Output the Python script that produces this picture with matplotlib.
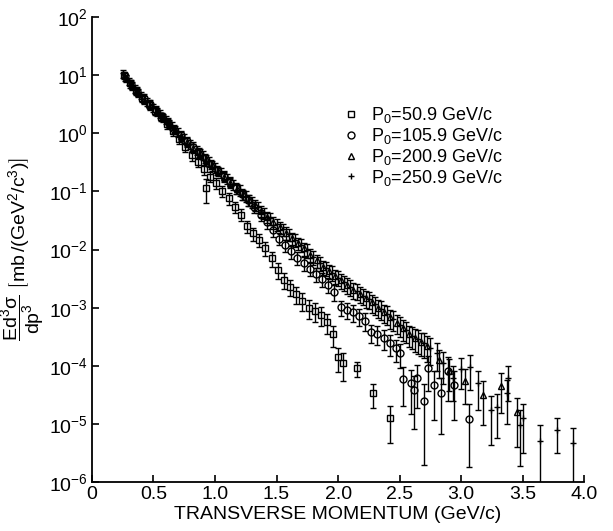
import numpy as np
import matplotlib
matplotlib.use("Agg")
import matplotlib.pyplot as plt
from matplotlib.lines import Line2D

plt.rcParams['font.family'] = ['Liberation Sans', 'DejaVu Sans']
plt.rcParams['mathtext.default'] = 'regular'

# P0 = 50.9 GeV/c  (squares)
pt_50 = [0.26, 0.31, 0.36, 0.41, 0.46, 0.51, 0.56, 0.61, 0.66, 0.71, 0.76, 0.81, 0.86, 0.91,
         0.93,
         0.96, 1.01, 1.06, 1.11, 1.16, 1.21, 1.26, 1.31, 1.36, 1.41, 1.46, 1.51, 1.56, 1.61,
         1.66, 1.71, 1.76, 1.81, 1.86, 1.91, 1.96,
         2.00, 2.04, 2.15, 2.28, 2.42]
sig_50 = [10.0, 7.2, 5.4, 4.1, 3.2, 2.45, 1.9, 1.45, 1.10, 0.79, 0.58, 0.42, 0.32, 0.24,
          0.115,
          0.18, 0.138, 0.102, 0.076, 0.055, 0.040, 0.025, 0.019, 0.0148, 0.0105, 0.0071,
          0.0045, 0.0030, 0.0023, 0.00174, 0.00132, 0.0010, 0.00089, 0.00076, 0.00056, 0.00035,
          1.4e-4, 1.1e-4, 9.1e-5, 3.4e-5, 1.26e-5]
rel_50 = [0.15, 0.15, 0.15, 0.15, 0.16, 0.16, 0.16, 0.17, 0.17, 0.18, 0.18, 0.19, 0.19, 0.20,
          0.45,
          0.20, 0.21, 0.21, 0.22, 0.22, 0.23, 0.24, 0.25, 0.26, 0.27, 0.28, 0.30, 0.31, 0.32,
          0.33, 0.34, 0.35, 0.36, 0.37, 0.38, 0.40,
          0.45, 0.50, 0.30, 0.45, 0.62]

# P0 = 105.9 GeV/c  (circles)
pt_105 = [0.27, 0.32, 0.37, 0.42, 0.47, 0.52, 0.57, 0.62, 0.67, 0.72, 0.77, 0.82, 0.87, 0.92,
          0.97, 1.02, 1.07, 1.12, 1.17, 1.22, 1.27, 1.32, 1.37, 1.42, 1.47, 1.52, 1.57, 1.62,
          1.67, 1.72, 1.77, 1.82, 1.87, 1.92, 1.97, 2.02, 2.07, 2.12, 2.17, 2.22, 2.27, 2.32,
          2.37, 2.42, 2.47, 2.50,
          2.53, 2.59, 2.62, 2.64, 2.70, 2.73, 2.78, 2.84, 2.89, 2.94, 3.06]
sig_105 = [9.5, 7.1, 5.4, 4.1, 3.2, 2.5, 1.95, 1.55, 1.20, 0.93, 0.74, 0.59, 0.47, 0.37,
           0.295, 0.234, 0.186, 0.148, 0.115, 0.091, 0.071, 0.054, 0.040, 0.0295, 0.0214,
           0.0155, 0.0120, 0.0093, 0.0072, 0.0058, 0.0047, 0.0038, 0.0031, 0.0025, 0.00186,
           0.00102, 0.00093, 0.00083, 0.00072, 0.0006, 0.00038, 0.00036, 0.0003, 0.000245,
           0.0002, 0.000166,
           5.9e-5, 5.0e-5, 3.8e-5, 6.2e-5, 2.5e-5, 9.1e-5, 4.7e-5, 3.4e-5, 8.3e-5, 4.7e-5, 1.2e-5]
rel_105 = [0.15, 0.15, 0.15, 0.15, 0.15, 0.16, 0.16, 0.16, 0.17, 0.17,
           0.17, 0.18, 0.18, 0.18, 0.19, 0.19, 0.20, 0.20, 0.20, 0.21,
           0.21, 0.22, 0.22, 0.23, 0.23, 0.24, 0.24, 0.25, 0.25, 0.26,
           0.26, 0.27, 0.28, 0.29, 0.30, 0.30, 0.31, 0.32, 0.33, 0.34,
           0.35, 0.36, 0.38, 0.40, 0.42, 0.45,
           0.65, 0.70, 0.78, 0.70, 0.92, 0.60, 0.75, 0.80, 0.70, 0.75, 0.85]

# P0 = 200.9 GeV/c  (triangles)
pt_200 = [0.275, 0.325, 0.375, 0.425, 0.475, 0.525, 0.575, 0.625, 0.675, 0.725,
          0.775, 0.825, 0.875, 0.925, 0.975, 1.025, 1.075, 1.125, 1.175, 1.225,
          1.275, 1.325, 1.375, 1.425, 1.475, 1.525, 1.575, 1.625, 1.675, 1.725,
          1.775, 1.825, 1.875, 1.925, 1.975, 2.025, 2.075, 2.125, 2.175, 2.225,
          2.275, 2.325, 2.375, 2.425, 2.475, 2.525, 2.575, 2.625, 2.675, 2.725,
          2.82, 2.90, 3.03, 3.18, 3.32, 3.45]
sig_200 = [8.9, 6.6, 5.0, 3.8, 3.0, 2.34, 1.86, 1.45, 1.15, 0.89,
           0.71, 0.56, 0.45, 0.355, 0.28, 0.224, 0.178, 0.141, 0.112, 0.089,
           0.071, 0.058, 0.046, 0.037, 0.0295, 0.024, 0.0195, 0.0158, 0.0129, 0.0105,
           0.0081, 0.0065, 0.0051, 0.0043, 0.0035, 0.0030, 0.00245, 0.00204, 0.00174, 0.00148,
           0.00123, 0.0010, 0.00083, 0.00068, 0.00055, 0.00044, 0.00035, 0.0003, 0.00026, 0.00022,
           1.26e-4, 8.3e-5, 5.6e-5, 3.2e-5, 4.5e-5, 1.6e-5]
rel_200 = [0.15, 0.15, 0.15, 0.15, 0.15, 0.16, 0.16, 0.16, 0.17, 0.17,
           0.17, 0.18, 0.18, 0.18, 0.19, 0.19, 0.20, 0.20, 0.20, 0.21,
           0.21, 0.22, 0.22, 0.22, 0.23, 0.23, 0.24, 0.24, 0.25, 0.25,
           0.26, 0.26, 0.27, 0.28, 0.28, 0.29, 0.30, 0.30, 0.31, 0.32,
           0.33, 0.34, 0.35, 0.36, 0.37, 0.38, 0.40, 0.42, 0.44, 0.46,
           0.50, 0.55, 0.60, 0.70, 0.65, 0.75]

# P0 = 250.9 GeV/c  (crosses)
pt_250 = [0.25, 0.30, 0.35, 0.40, 0.45, 0.50, 0.55, 0.60, 0.65, 0.70,
          0.75, 0.80, 0.85, 0.90, 0.95, 1.00, 1.05, 1.10, 1.15, 1.20,
          1.25, 1.30, 1.35, 1.40, 1.45, 1.50, 1.55, 1.60, 1.65, 1.70,
          1.75, 1.80, 1.85, 1.90, 1.95, 2.00, 2.05, 2.10, 2.15, 2.20,
          2.25, 2.30, 2.35, 2.40, 2.45, 2.50, 2.55, 2.60, 2.65, 2.70, 2.75,
          2.80, 2.85, 2.93, 3.00, 3.07, 3.14, 3.24, 3.29, 3.37, 3.38, 3.48, 3.50, 3.64, 3.78, 3.91]
sig_250 = [10.7, 7.9, 5.9, 4.5, 3.5, 2.75, 2.19, 1.70, 1.35, 1.05,
           0.83, 0.66, 0.52, 0.42, 0.33, 0.26, 0.21, 0.166, 0.132, 0.105,
           0.083, 0.066, 0.054, 0.043, 0.035, 0.0275, 0.0224, 0.0182, 0.0148, 0.0120,
           0.0098, 0.0074, 0.0059, 0.0048, 0.0040, 0.0033, 0.00275, 0.0023, 0.00195, 0.00162,
           0.00141, 0.00115, 0.00095, 0.00078, 0.00063, 0.0005, 0.00041, 0.00033, 0.00029,
           0.00025, 0.0002,
           1.66e-4, 1.1e-4, 6.3e-5, 8.9e-5, 9.5e-5, 5.0e-5, 1.74e-5, 1.95e-5, 3.4e-5, 6.2e-5,
           9.5e-6, 1.26e-5, 5.2e-6, 7.8e-6, 4.7e-6]
rel_250 = [0.15, 0.15, 0.15, 0.15, 0.15, 0.16, 0.16, 0.16, 0.17, 0.17,
           0.17, 0.18, 0.18, 0.18, 0.19, 0.19, 0.20, 0.20, 0.20, 0.21,
           0.21, 0.22, 0.22, 0.22, 0.23, 0.23, 0.24, 0.24, 0.25, 0.25,
           0.26, 0.26, 0.27, 0.28, 0.28, 0.29, 0.30, 0.30, 0.31, 0.32,
           0.33, 0.34, 0.35, 0.36, 0.37, 0.38, 0.40, 0.42, 0.44, 0.46, 0.48,
           0.50, 0.55, 0.60, 0.55, 0.60, 0.65, 0.75, 0.70, 0.70, 0.60, 0.80, 0.75, 0.85, 0.60, 0.80]

labels = ['P$_0$=50.9 GeV/c', 'P$_0$=105.9 GeV/c', 'P$_0$=200.9 GeV/c', 'P$_0$=250.9 GeV/c']
series = [(pt_50, sig_50, rel_50, 's'),
          (pt_105, sig_105, rel_105, 'o'),
          (pt_200, sig_200, rel_200, '^'),
          (pt_250, sig_250, rel_250, '+')]

fig = plt.figure(figsize=(6.13, 5.31), dpi=100)
ax = fig.add_axes([0.150, 0.092, 0.803, 0.876])

for x, y, r, m in series:
    y = np.array(y)
    err = np.array(r) * y
    ax.errorbar(x, y, yerr=err, fmt=m, ms=5, mfc='none', mec='k', mew=1.0,
                ecolor='k', elinewidth=1.0, capsize=2.5, capthick=1.0)

ax.set_yscale('log')
ax.set_xlim(0, 4.0)
ax.set_ylim(1e-6, 1e2)
ax.set_xticks([0, 0.5, 1.0, 1.5, 2.0, 2.5, 3.0, 3.5, 4.0])
ax.set_xticklabels(['0', '0.5', '1.0', '1.5', '2.0', '2.5', '3.0', '3.5', '4.0'])
ax.set_yticks([10.0 ** k for k in range(-6, 3)])
ax.minorticks_off()
ax.tick_params(direction='in', length=5, width=1.2, labelsize=14, pad=3)
ax.spines['top'].set_visible(False)
ax.spines['right'].set_visible(False)
ax.spines['left'].set_linewidth(1.3)
ax.spines['bottom'].set_linewidth(1.3)

ax.set_xlabel('TRANSVERSE MOMENTUM (GeV/c)', fontsize=14, labelpad=2)
ax.set_ylabel(r'$\dfrac{Ed^3\sigma}{dp^3}\ \left[mb\,/(GeV^2/c^3)\right]$', fontsize=14)
ax.yaxis.set_label_coords(-0.092, 0.5)

handles = [Line2D([], [], ls='none', marker=m, ms=5, mfc='none', mec='k', mew=1.0)
           for _, _, _, m in series]
ax.legend(handles, labels, loc='upper left', bbox_to_anchor=(0.49, 0.83), frameon=False,
          fontsize=13, handlelength=1.0, handletextpad=0.6, labelspacing=0.05, borderpad=0)

fig.savefig('out.png', dpi=100)
